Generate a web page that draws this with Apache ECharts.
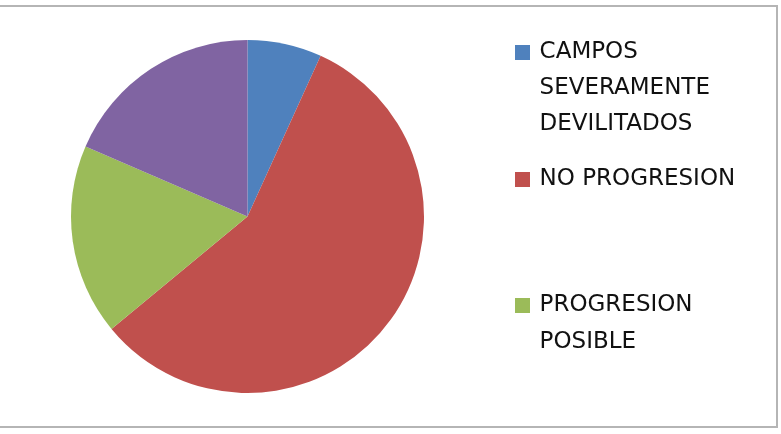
<!DOCTYPE html>
<html>
<head>
<meta charset="utf-8">
<script src="https://cdn.jsdelivr.net/npm/echarts@6/dist/echarts.min.js"></script>
<style>
  html, body { margin: 0; padding: 0; background: #fff; }
  #chart { width: 781px; height: 434px; }
</style>
</head>
<body>
<div id="chart"></div>
<script>
const categories = ['CAMPOS\nSEVERAMENTE\nDEVILITADOS', 'NO PROGRESION', 'PROGRESION\nPOSIBLE', '']
const values = [6.8, 57.2, 17.5, 18.5]
const colors = ['#4F81BD', '#C0504D', '#9BBB59', '#8064A2']

// legend entries shown in the picture (the 4th slice has none)
const legendRows = [
  { name: categories[0], lines: 3, lh: 36, iconTop: 45 },
  { name: categories[1], lines: 1, lh: 36, iconTop: 172 },
  { name: categories[2], lines: 2, lh: 37, iconTop: 298 }
]
const ICON = 15

// text is centred on the icon, so blank lines on top push the first line level with it
const legends = legendRows.map(r => {
  const total = 2 * r.lines - 1
  const relTop = ICON / 2 - (total * r.lh) / 2
  return {
    data: [r.name],
    orient: 'vertical',
    left: 515,
    top: r.iconTop + relTop,
    padding: 0,
    icon: 'rect',
    itemWidth: ICON,
    itemHeight: ICON,
    selectedMode: false,
    formatter: name => '\n'.repeat(r.lines - 1) + name.split('\n').map(s => '\u2009' + s).join('\n'),
    textStyle: {
      fontFamily: 'DejaVu Sans',
      fontSize: 23,
      color: '#111',
      lineHeight: r.lh
    }
  }
})

const chart = echarts.init(document.getElementById('chart'))
chart.setOption({
  animation: false,
  color: colors,
  legend: legends,
  graphic: [{
    type: 'rect',
    shape: { x: -1, y: 6, width: 778, height: 421 },
    style: { fill: 'none', stroke: '#b5b5b5', lineWidth: 2 },
    silent: true
  }],
  series: [{
    type: 'pie',
    center: [247.5, 216.5],
    radius: 176.5,
    startAngle: 90,
    clockwise: true,
    label: { show: false },
    labelLine: { show: false },
    emphasis: { scale: false },
    itemStyle: { borderWidth: 0 },
    data: categories.map((c, i) => ({ name: c, value: values[i] }))
  }]
})
</script>
</body>
</html>
